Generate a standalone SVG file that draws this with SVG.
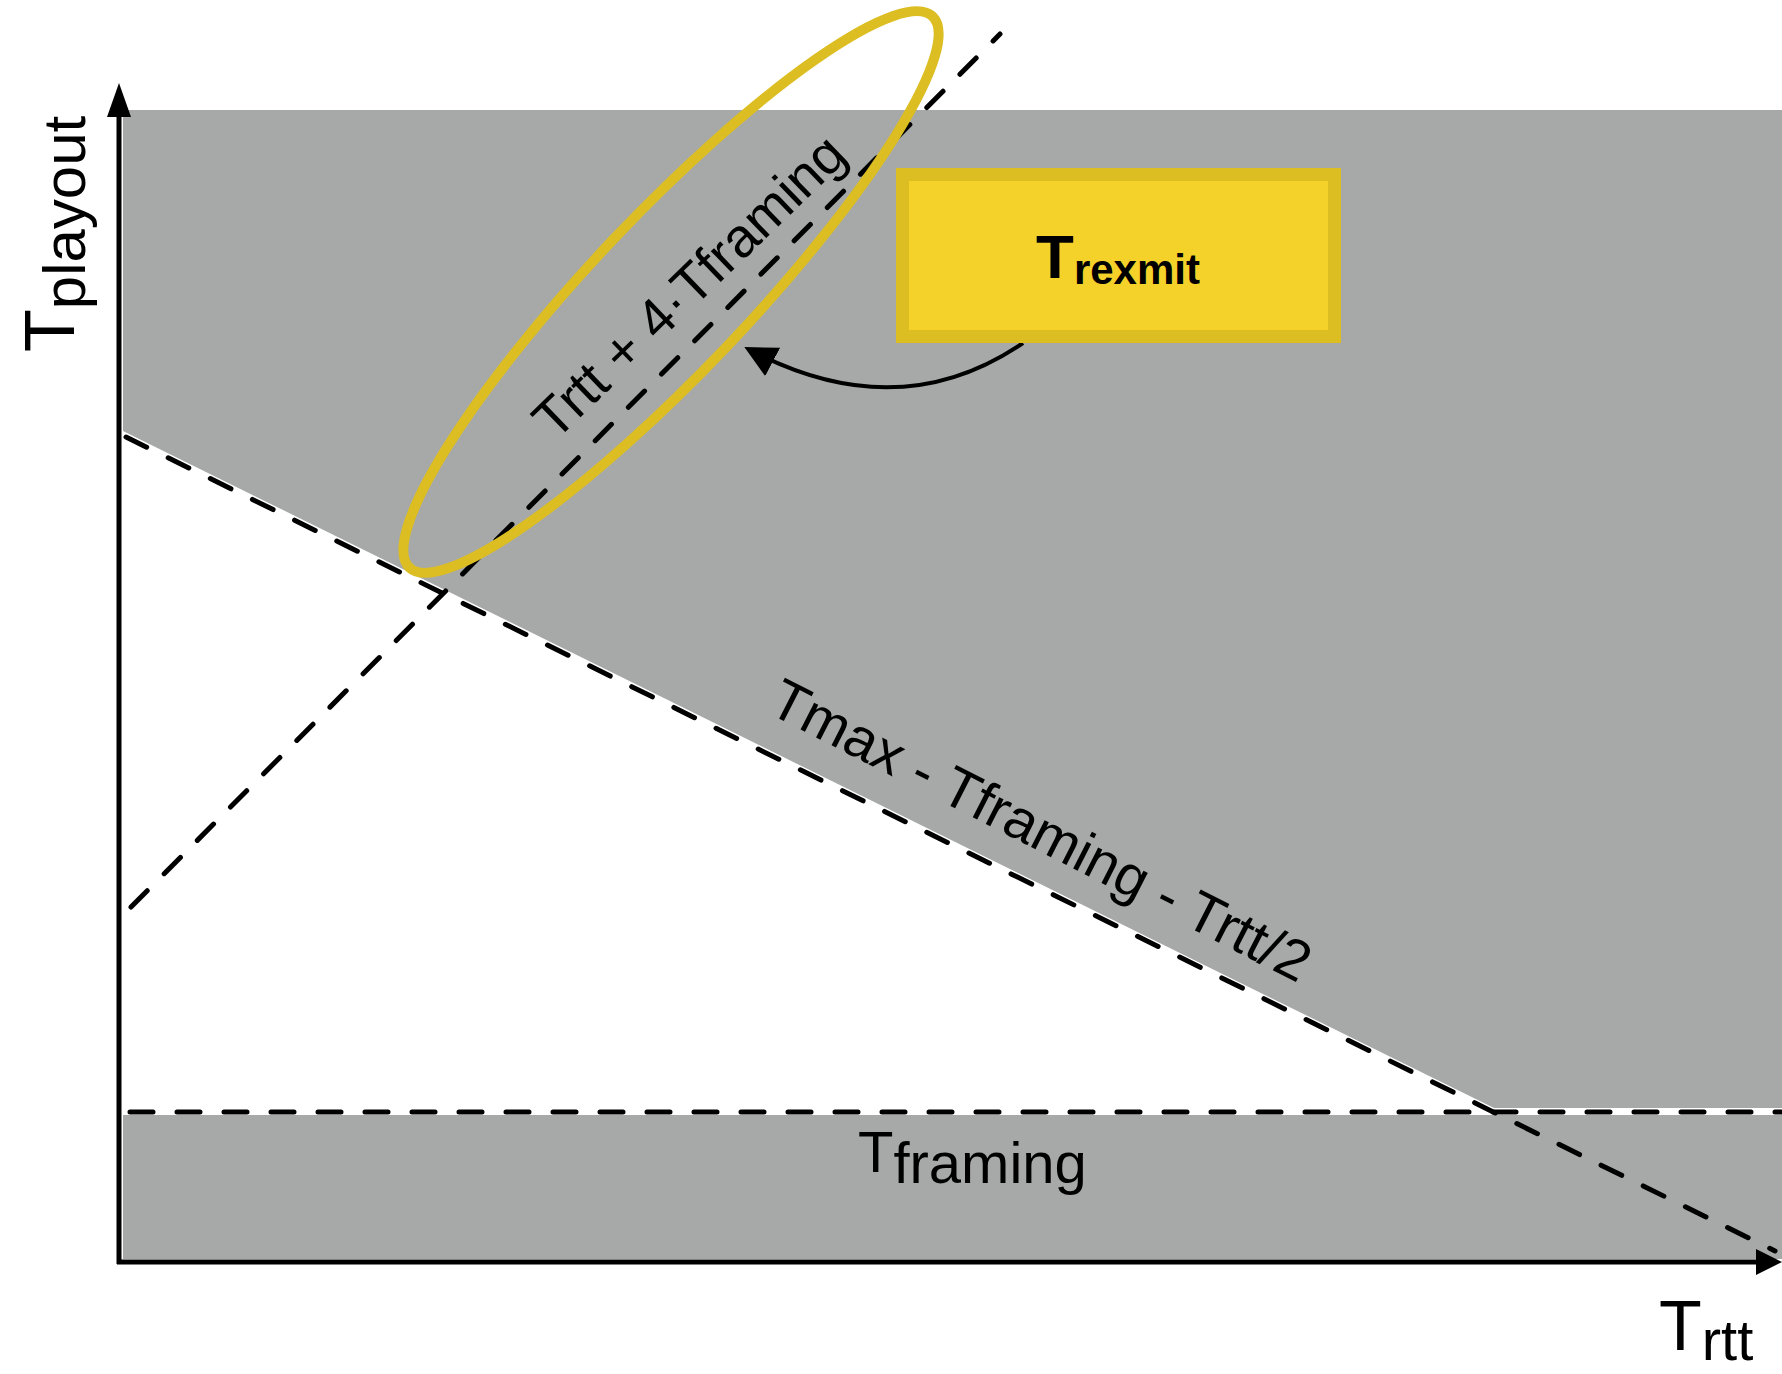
<svg xmlns="http://www.w3.org/2000/svg" width="1782" height="1374" viewBox="0 0 1782 1374">
<defs>
<style>
.grey{fill:#A6A9A8}
.dash{fill:none;stroke:#000;stroke-width:5;stroke-dasharray:23 24;stroke-linecap:round}
.axis{fill:none;stroke:#000;stroke-width:5}
.lbl{font-family:"Liberation Sans",Arial,sans-serif;fill:#000}
</style>
<marker id="ah" viewBox="0 0 10 10" refX="8" refY="5" markerWidth="8" markerHeight="8" markerUnits="strokeWidth" orient="auto">
<path d="M0,0 L10,5 L0,10 Z" fill="#000"/>
</marker>
</defs>
<rect width="1782" height="1374" fill="#fff"/>
<g id="regions">
<polygon class="grey" points="123,110 1782,110 1782,1108 1494,1108 123,431"/>
<rect class="grey" x="123" y="1115" width="1659" height="144"/>
</g>
<g id="connectors">
<line class="dash" x1="126" y1="437" x2="1775" y2="1251"/>
<line class="dash" x1="130" y1="1112" x2="1782" y2="1112"/>
<line class="dash" x1="131" y1="907" x2="1000" y2="34"/>
<line class="axis" x1="119" y1="1264" x2="119" y2="112"/>
<polygon points="119,83 107,117 131,117" fill="#000"/>
<line class="axis" x1="117" y1="1262" x2="1758" y2="1262"/>
<polygon points="1782,1262 1756,1249 1756,1275" fill="#000"/>
<path d="M1023,343 Q898,428 750,350" fill="none" stroke="#000" stroke-width="4" marker-end="url(#ah)"/>
</g>
<g id="ellipse">
<ellipse cx="671" cy="292" rx="380" ry="78" transform="rotate(-46.5 671 292)" fill="none" stroke="#DCBE22" stroke-width="10"/>
</g>
<g id="trexmit">
<rect x="902.5" y="174.5" width="432" height="162" fill="#F5D22A" stroke="#DCBE22" stroke-width="13"/>
<text class="lbl" x="1036" y="278" font-weight="bold" font-size="62">T<tspan font-size="42" dy="6">rexmit</tspan></text>
</g>
<g id="labels">
<text class="lbl" font-size="57" transform="translate(766,712) rotate(27)">Tmax - Tframing - Trtt/2</text>
<text class="lbl" font-size="55" transform="translate(555,442) rotate(-44)">Trtt + 4·Tframing</text>
<text class="lbl" x="858" y="1172" font-size="58">T<tspan dy="11">framing</tspan></text>
<text class="lbl" font-size="70" transform="translate(74,352) rotate(-90)">T<tspan font-size="60" dy="11">playout</tspan></text>
<text class="lbl" x="1659" y="1350" font-size="70">T<tspan font-size="58" dy="10">rtt</tspan></text>
</g>
</svg>
